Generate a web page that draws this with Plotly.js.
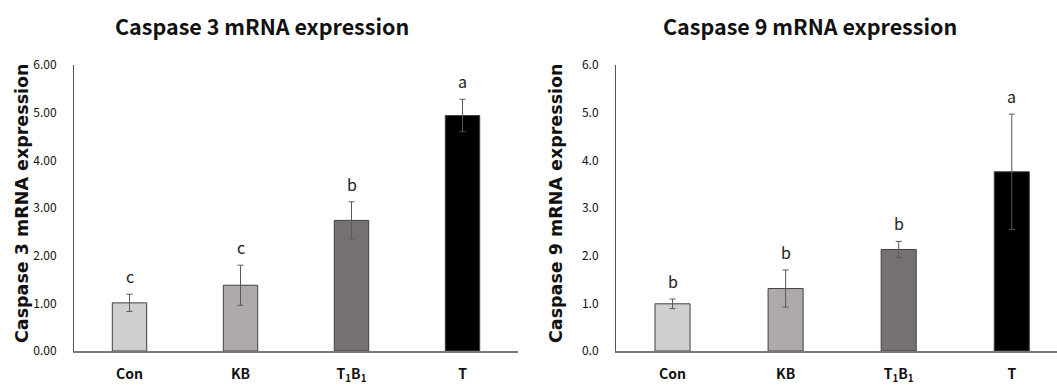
<!DOCTYPE html>
<html>
<head>
<meta charset="utf-8">
<script src="https://cdn.plot.ly/plotly-3.0.1.min.js"></script>
<style>html,body{margin:0;padding:0;background:#fff;}#chart{width:1057px;height:388px;}</style>
</head>
<body>
<div id="chart"></div>
<script>
// ---- data ----
const categories = ['Con', 'KB', 'T<sub>1</sub>B<sub>1</sub>', 'T'];
const casp3Values = [1.01, 1.38, 2.74, 4.94];
const casp3Errors = [0.18, 0.42, 0.39, 0.34];
const casp3Letters = ['c', 'c', 'b', 'a'];
const casp9Values = [0.99, 1.31, 2.13, 3.76];
const casp9Errors = [0.10, 0.39, 0.17, 1.21];
const casp9Letters = ['b', 'b', 'b', 'a'];
const titles = ['Caspase 3 mRNA expression', 'Caspase 9 mRNA expression'];

// ---- style ----
const barColors = ['#D0CECE', '#AEAAAA', '#767171', '#000000'];
const narrow = '"Noto Sans CJK KR", "Liberation Sans", sans-serif';
const wide = '"DejaVu Sans", sans-serif';

function barTrace(vals, errs, xa, ya) {
  return {
    type: 'bar', x: categories, y: vals, xaxis: xa, yaxis: ya,
    width: 0.31,
    marker: {color: barColors, line: {color: '#404040', width: 1}},
    error_y: {type: 'data', array: errs, visible: true, color: '#595959', thickness: 1, width: 3},
    hoverinfo: 'skip', showlegend: false
  };
}

function letterAnns(vals, errs, letters, xr, yr) {
  return letters.map((t, i) => ({
    x: categories[i], y: vals[i] + errs[i], xref: xr, yref: yr,
    text: t, showarrow: false, yanchor: 'bottom', yshift: 4,
    font: {family: narrow, size: 16, color: '#222'}
  }));
}

const axisX = (domain, range) => ({
  domain: domain, type: 'category', range: range,
  showline: true, linecolor: '#7a7a7a', linewidth: 1.5,
  ticks: '', showgrid: false, zeroline: false,
  ticklabelstandoff: 10,
  tickfont: {family: narrow, size: 14, color: '#111', weight: 'bold'}
});
const axisY = (fmt) => ({
  range: [0, 6], dtick: 1, tickformat: fmt,
  showline: true, linecolor: '#555', linewidth: 1,
  ticks: '', showgrid: false, zeroline: false,
  ticklabelstandoff: 14,
  tickfont: {family: narrow, size: 12, color: '#111'}
});

const layout = {
  width: 1057, height: 388,
  margin: {l: 0, r: 0, t: 65, b: 37},
  paper_bgcolor: '#fff', plot_bgcolor: '#fff',
  bargap: 0,
  xaxis: axisX([74 / 1057, 518 / 1057], [-0.5, 3.5]),
  yaxis: axisY('.2f'),
  xaxis2: Object.assign(axisX([616 / 1057, 1], [-0.5, 3.4]), {anchor: 'y2'}),
  yaxis2: Object.assign(axisY('.1f'), {anchor: 'x2'}),
  annotations: [
    {text: titles[0], xref: 'paper', yref: 'paper', x: 262 / 1057, y: (351 - 25) / 286,
     showarrow: false, xanchor: 'center', yanchor: 'middle',
     font: {family: narrow, size: 21.5, color: '#111', weight: 'bold'}},
    {text: titles[1], xref: 'paper', yref: 'paper', x: 810 / 1057, y: (351 - 25) / 286,
     showarrow: false, xanchor: 'center', yanchor: 'middle',
     font: {family: narrow, size: 21.5, color: '#111', weight: 'bold'}},
    {text: titles[0], xref: 'paper', yref: 'paper', x: 22 / 1057, y: (351 - 203) / 286,
     textangle: -90, showarrow: false, xanchor: 'center', yanchor: 'middle',
     font: {family: wide, size: 17.5, color: '#111', weight: 'bold'}},
    {text: titles[1], xref: 'paper', yref: 'paper', x: 556 / 1057, y: (351 - 203) / 286,
     textangle: -90, showarrow: false, xanchor: 'center', yanchor: 'middle',
     font: {family: wide, size: 17.5, color: '#111', weight: 'bold'}}
  ].concat(letterAnns(casp3Values, casp3Errors, casp3Letters, 'x', 'y'))
   .concat(letterAnns(casp9Values, casp9Errors, casp9Letters, 'x2', 'y2'))
};

Plotly.newPlot('chart', [
  barTrace(casp3Values, casp3Errors, 'x', 'y'),
  barTrace(casp9Values, casp9Errors, 'x2', 'y2')
], layout, {staticPlot: true, displayModeBar: false});
</script>
</body>
</html>
